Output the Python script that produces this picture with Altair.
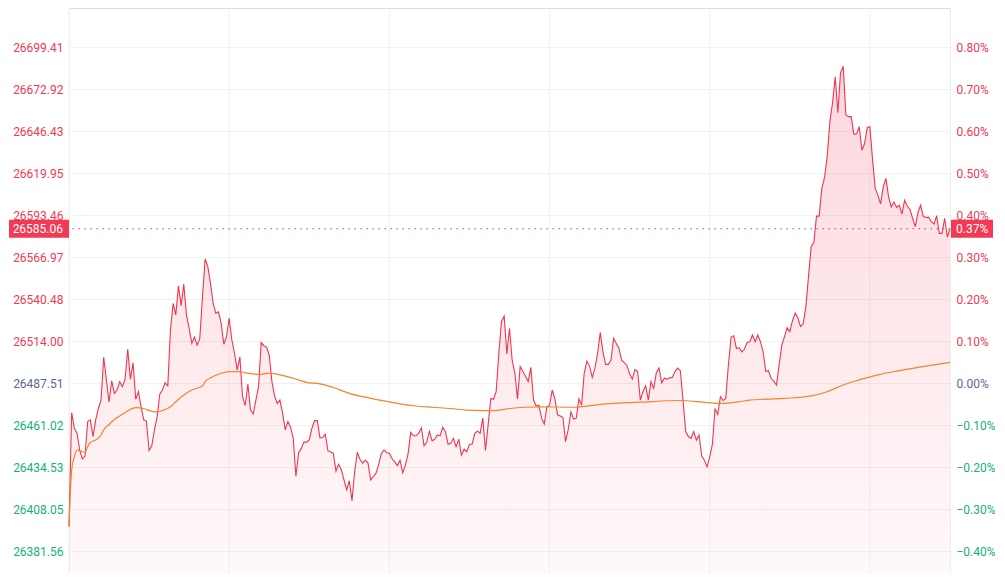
import altair as alt
import pandas as pd

prev_close = 26487.51
last_price_label = "26585.06"
last_pct_label = "0.37%"

# percent change vs previous close, one value per minute (index 0..330)
pct = [
    -0.341, -0.070, -0.107, -0.119, -0.159, -0.180, -0.173, -0.091, -0.087, -0.127,
    -0.087, -0.060, -0.040, 0.062, 0.008, -0.045, 0.006, -0.024, -0.016, 0.004,
    -0.008, 0.010, 0.081, 0.010, 0.049, -0.038, -0.020, -0.056, -0.087, -0.090,
    -0.160, -0.149, -0.111, -0.080, -0.026, -0.016, 0.001, -0.006, 0.127, 0.190,
    0.163, 0.232, 0.185, 0.236, 0.163, 0.131, 0.095, 0.110, 0.091, 0.107,
    0.206, 0.296, 0.278, 0.238, 0.190, 0.167, 0.170, 0.143, 0.093, 0.111,
    0.155, 0.103, 0.071, 0.032, 0.063, -0.032, -0.053, -0.002, -0.064, -0.073,
    -0.040, -0.008, 0.097, 0.089, 0.086, 0.067, 0.004, -0.030, -0.048, -0.040,
    -0.071, -0.111, -0.091, -0.105, -0.131, -0.221, -0.165, -0.155, -0.140, -0.140,
    -0.135, -0.107, -0.089, -0.089, -0.130, -0.129, -0.121, -0.161, -0.163, -0.167,
    -0.209, -0.193, -0.206, -0.230, -0.254, -0.232, -0.280, -0.210, -0.164, -0.181,
    -0.190, -0.183, -0.190, -0.230, -0.222, -0.214, -0.193, -0.167, -0.159, -0.165,
    -0.167, -0.179, -0.187, -0.196, -0.183, -0.213, -0.195, -0.168, -0.117, -0.125,
    -0.125, -0.119, -0.106, -0.149, -0.140, -0.114, -0.137, -0.133, -0.123, -0.125,
    -0.105, -0.115, -0.145, -0.143, -0.131, -0.151, -0.133, -0.171, -0.157, -0.163,
    -0.145, -0.145, -0.119, -0.114, -0.119, -0.083, -0.160, -0.099, -0.036, -0.038,
    -0.020, 0.071, 0.147, 0.160, 0.070, 0.131, 0.055, 0.024, -0.037, 0.040,
    0.028, 0.017, 0.004, 0.038, -0.040, -0.054, -0.052, -0.083, -0.097, -0.056,
    -0.052, -0.016, -0.037, -0.075, -0.078, -0.081, -0.139, -0.110, -0.068, -0.085,
    -0.083, -0.037, -0.052, 0.025, 0.053, 0.041, 0.014, 0.036, 0.071, 0.121,
    0.075, 0.045, 0.045, 0.055, 0.107, 0.095, 0.083, 0.055, 0.049, 0.042,
    0.022, 0.010, 0.033, 0.028, -0.040, -0.020, -0.006, -0.040, 0.004, -0.012,
    0.025, 0.036, 0.001, 0.012, 0.010, 0.013, 0.014, 0.028, 0.036, 0.030,
    -0.040, -0.115, -0.127, -0.131, -0.115, -0.135, -0.123, -0.173, -0.183, -0.199,
    -0.175, -0.145, -0.060, -0.074, -0.032, -0.041, -0.036, 0.044, 0.110, 0.113,
    0.083, 0.085, 0.075, 0.081, 0.097, 0.099, 0.115, 0.099, 0.115, 0.099,
    0.075, 0.028, 0.030, 0.012, 0.005, -0.004, 0.044, 0.091, 0.111, 0.132,
    0.123, 0.149, 0.167, 0.156, 0.135, 0.141, 0.182, 0.254, 0.325, 0.335,
    0.398, 0.398, 0.464, 0.490, 0.540, 0.623, 0.668, 0.730, 0.644, 0.740,
    0.755, 0.639, 0.635, 0.635, 0.593, 0.594, 0.611, 0.555, 0.571, 0.609,
    0.611, 0.532, 0.464, 0.448, 0.427, 0.468, 0.488, 0.444, 0.420, 0.432,
    0.419, 0.424, 0.403, 0.436, 0.422, 0.414, 0.393, 0.373, 0.407, 0.424,
    0.397, 0.395, 0.395, 0.385, 0.379, 0.399, 0.357, 0.357, 0.393, 0.348,
    0.368,
]

# average price line (percent), sampled at these minute indices
avg_idx = [0, 1, 2, 3, 4, 5, 6, 7, 8, 10, 12, 13, 15, 17, 19, 22, 24, 25, 28, 30,
           33, 35, 38, 40, 43, 46, 50, 51, 54, 57, 60, 63, 66, 71, 75, 79, 84, 90, 93, 99,
           105, 111, 118, 124, 130, 136, 143, 149, 155, 160, 165, 171, 176, 189, 201,
           214, 229, 239, 244, 251, 255, 268, 278, 284, 290, 296, 303, 311, 321, 330]
avg_pct = [-0.341, -0.206, -0.175, -0.159, -0.160, -0.163, -0.164, -0.151, -0.141,
           -0.135, -0.123, -0.111, -0.098, -0.086, -0.078, -0.066, -0.059, -0.058, -0.060,
           -0.065, -0.068, -0.065, -0.056, -0.044, -0.028, -0.016, -0.006, 0.004, 0.016,
           0.024, 0.028, 0.028, 0.025, 0.021, 0.024, 0.020, 0.012, 0.001, 0.000, -0.010,
           -0.024, -0.033, -0.042, -0.049, -0.054, -0.057, -0.060, -0.064, -0.065, -0.065,
           -0.060, -0.057, -0.056, -0.057, -0.049, -0.045, -0.041, -0.046, -0.048, -0.044,
           -0.040, -0.036, -0.030, -0.020, -0.004, 0.008, 0.020, 0.030, 0.041, 0.050]

tick_pcts = [-0.4, -0.3, -0.2, -0.1, 0.0, 0.1, 0.2, 0.3, 0.4, 0.5, 0.6, 0.7, 0.8]
price_labels = ["26381.56", "26408.05", "26434.53", "26461.02", "26487.51", "26514.00",
                "26540.48", "26566.97", "26593.46", "26619.95", "26646.43", "26672.92",
                "26699.41"]
vgrid_idx = [0, 60, 120, 180, 240, 300]

RED = "#f23a55"
LINE_RED = "#ef3651"
GREEN = "#16b07c"
GRAY = "#5a6b8c"
ORANGE = "#f5842a"

Y_MIN, Y_MAX = -0.4517, 0.8936

df = pd.DataFrame({"idx": list(range(len(pct))), "pct": pct})
df_avg = pd.DataFrame({"idx": avg_idx, "pct": avg_pct})
df_last = pd.DataFrame({"idx": [len(pct) - 1], "pct": [pct[-1]],
                        "price": [last_price_label], "plabel": [last_pct_label]})
df_v = pd.DataFrame({"idx": vgrid_idx})

W, H = 881, 565
xs = alt.Scale(domain=[0, 330], nice=False, zero=False)
ys = alt.Scale(domain=[Y_MIN, Y_MAX], nice=False, zero=False)
X = alt.X("idx:Q", scale=xs, axis=None)

label_color = {
    "condition": [
        {"test": "datum.value > 0.0001", "value": RED},
        {"test": "datum.value < -0.0001", "value": GREEN},
    ],
    "value": GRAY,
}

arr = "[" + ",".join("'" + s + "'" for s in price_labels) + "]"
left_axis = alt.Axis(
    orient="left", values=tick_pcts, labelExpr=arr + "[round(datum.value*10)+4]",
    grid=True, gridColor="#f1f1f1", ticks=False, domain=True, domainColor="#eeeeee",
    labelPadding=6, labelFontSize=12, labelFont="Roboto", labelColor=label_color,
    title=None,
)
right_axis = alt.Axis(
    orient="right", values=tick_pcts, labelExpr="format(datum.value, '.2f') + '%'",
    grid=False, ticks=False, domain=True, domainColor="#eeeeee",
    labelPadding=6, labelFontSize=12, labelFont="Roboto", labelColor=label_color,
    title=None,
)


def Y(axis=None):
    return alt.Y("pct:Q", scale=ys, axis=axis)


vgrid = alt.Chart(df_v).mark_rule(color="#f2f2f2", strokeWidth=1).encode(x=X)

grad = alt.Gradient(
    gradient="linear",
    stops=[alt.GradientStop(color="rgba(242,54,83,0.20)", offset=0),
           alt.GradientStop(color="rgba(242,54,83,0.03)", offset=1)],
    x1=0, x2=0, y1=0, y2=1,
)
area = alt.Chart(df).mark_area(color=grad).encode(x=X, y=Y(), y2=alt.datum(Y_MIN))
price_line = alt.Chart(df).mark_line(color=LINE_RED, strokeWidth=1.1).encode(x=X, y=Y(left_axis))
avg_line = alt.Chart(df_avg).mark_line(color=ORANGE, strokeWidth=1.2, interpolate="monotone").encode(x=X, y=Y())
last_rule = alt.Chart(df_last).mark_rule(color=RED, strokeDash=[1.5, 4.5], strokeWidth=1).encode(y=Y(right_axis))

left_box = alt.Chart(df_last).mark_rect(color=RED, yOffset=-9, y2Offset=9).encode(
    x=alt.value(-60), x2=alt.value(0), y=Y(), y2="pct:Q")
left_text = alt.Chart(df_last).mark_text(
    align="right", baseline="middle", color="white", fontSize=12, font="Roboto"
).encode(x=alt.value(-6), y=Y(), text="price:N")
right_box = alt.Chart(df_last).mark_rect(color=RED, yOffset=-9, y2Offset=9).encode(
    x=alt.value(W + 1), x2=alt.value(W + 43), y=Y(), y2="pct:Q")
right_text = alt.Chart(df_last).mark_text(
    align="left", baseline="middle", color="white", fontSize=12, font="Roboto"
).encode(x=alt.value(W + 6), y=Y(), text="plabel:N")

chart = alt.layer(
    vgrid, area, price_line, avg_line, last_rule, left_box, left_text, right_box, right_text
).resolve_scale(y="independent").properties(
    width=W, height=H,
    padding={"left": 61, "top": 0, "right": 45, "bottom": 0},
    autosize=alt.AutoSizeParams(type="none"),
    background="white",
).configure_view(stroke=None).configure(font="Roboto")

chart.save("out.html", embed_options={"renderer": "svg", "actions": False})
